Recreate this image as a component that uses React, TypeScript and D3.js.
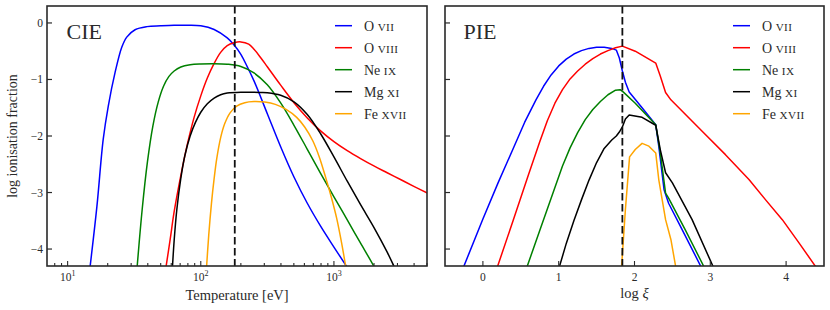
import React from 'react'
import * as d3 from 'd3'

// CIE: temperature [eV] vs log ionisation fraction
const cieOviiT = [14.6, 16.6, 18.5, 20.2, 22.7, 25.5, 27.8, 32.1, 39.4, 50, 63, 80, 100, 126, 158, 178, 200, 224, 251, 316, 398, 501, 631, 794, 1000, 1259, 1318]
const cieOviiF = [-4.4, -3.24, -2.06, -1.47, -0.88, -0.43, -0.25, -0.12, -0.065, -0.05, -0.04, -0.04, -0.05, -0.115, -0.265, -0.39, -0.555, -0.78, -1.025, -1.605, -2.19, -2.725, -3.19, -3.595, -3.965, -4.325, -4.4]

const cieOviiiT = [54.3, 58.9, 63.1, 70.8, 79.4, 89.1, 100, 112, 126, 141, 158, 178, 200, 229, 251, 282, 316, 398, 501, 631, 794, 1000, 1259, 1585, 1995, 2512, 3162, 3981, 5129]
const cieOviiiF = [-4.38, -3.83, -3.34, -2.7, -2.14, -1.67, -1.29, -0.975, -0.715, -0.52, -0.4, -0.35, -0.335, -0.375, -0.465, -0.615, -0.775, -1.1, -1.41, -1.68, -1.91, -2.1, -2.26, -2.4, -2.53, -2.65, -2.77, -2.89, -3.02]

const cieNeixT = [33.1, 36.3, 39.8, 43.7, 47.9, 52.5, 57.5, 63.1, 70.8, 83.2, 100, 126, 158, 200, 251, 316, 398, 501, 631, 794, 1000, 1259, 1585, 1995, 2089]
const cieNeixF = [-4.38, -3.3, -2.45, -1.82, -1.4, -1.12, -0.95, -0.85, -0.78, -0.74, -0.725, -0.72, -0.73, -0.77, -0.885, -1.095, -1.415, -1.81, -2.235, -2.66, -3.075, -3.485, -3.895, -4.305, -4.4]

const cieMgxiT = [61, 63.1, 66.1, 70.8, 75.9, 83.2, 91.2, 100, 112, 126, 141, 158, 200, 282, 316, 398, 501, 631, 794, 1000, 1259, 1585, 1995, 2512, 2818, 2951]
const cieMgxiF = [-4.4, -3.85, -3.3, -2.75, -2.35, -2.0, -1.76, -1.58, -1.43, -1.33, -1.27, -1.24, -1.225, -1.23, -1.235, -1.28, -1.395, -1.62, -1.96, -2.37, -2.8, -3.215, -3.615, -4.055, -4.3, -4.4]

const cieFexviiT = [109.6, 114.8, 120.2, 125.9, 131.8, 141.3, 151.4, 166, 186, 214, 251, 302, 363, 437, 525, 603, 692, 776, 871, 955, 1047, 1148, 1230, 1288]
const cieFexviiF = [-4.45, -3.75, -3.2, -2.76, -2.4, -2.02, -1.78, -1.59, -1.47, -1.41, -1.39, -1.4, -1.44, -1.53, -1.67, -1.84, -2.08, -2.37, -2.75, -3.08, -3.45, -3.92, -4.32, -4.55]

// PIE: log xi vs log ionisation fraction
const pieOviiX = [-0.28, 0.0, 0.2, 0.4, 0.55, 0.7, 0.8, 0.9, 1.0, 1.1, 1.2, 1.3, 1.4, 1.5, 1.6, 1.7, 1.76, 1.8, 1.84, 1.88, 1.93, 2.1, 2.28, 2.32, 2.39, 2.45, 2.63, 2.91]
const pieOviiF = [-4.4, -3.47, -2.83, -2.22, -1.76, -1.36, -1.12, -0.92, -0.76, -0.64, -0.55, -0.49, -0.45, -0.43, -0.43, -0.45, -0.48, -0.62, -0.85, -1.05, -1.22, -1.5, -1.8, -2.18, -2.95, -3.19, -3.66, -4.4]

const pieOviiiX = [0.17, 0.4, 0.6, 0.75, 0.85, 0.95, 1.05, 1.15, 1.25, 1.35, 1.45, 1.55, 1.65, 1.75, 1.84, 2.01, 2.28, 2.34, 2.41, 2.48, 2.85, 3.2, 3.51, 3.73, 3.95, 4.17, 4.41]
const pieOviiiF = [-4.4, -3.49, -2.69, -2.1, -1.73, -1.42, -1.18, -0.99, -0.85, -0.73, -0.63, -0.55, -0.49, -0.44, -0.41, -0.5, -0.71, -0.94, -1.23, -1.36, -1.86, -2.33, -2.77, -3.13, -3.48, -3.89, -4.35]

const pieNeixX = [0.56, 0.75, 0.9, 1.05, 1.15, 1.25, 1.35, 1.45, 1.55, 1.65, 1.75, 1.81, 1.85, 2.01, 2.28, 2.34, 2.41, 2.45, 2.67, 2.93]
const pieNeixF = [-4.4, -3.67, -3.1, -2.53, -2.21, -1.94, -1.71, -1.53, -1.39, -1.27, -1.19, -1.18, -1.22, -1.42, -1.8, -2.3, -3.01, -3.1, -3.66, -4.35]

const pieMgxiX = [0.99, 1.1, 1.2, 1.3, 1.4, 1.5, 1.6, 1.7, 1.76, 1.8, 1.84, 1.88, 1.93, 2.1, 2.28, 2.34, 2.41, 2.5, 2.76, 3.05]
const pieMgxiF = [-4.4, -3.9, -3.5, -3.13, -2.78, -2.47, -2.22, -2.07, -2.0, -1.93, -1.84, -1.7, -1.63, -1.67, -1.81, -2.24, -2.65, -2.83, -3.48, -4.35]

const pieFexviiX = [1.825, 1.88, 1.935, 2.01, 2.1, 2.19, 2.28, 2.32, 2.41, 2.48, 2.555]
const pieFexviiF = [-4.4, -3.3, -2.37, -2.24, -2.13, -2.18, -2.3, -2.77, -3.48, -3.83, -4.4]

const ionLabels = [['O', 'VII'], ['O', 'VIII'], ['Ne', 'IX'], ['Mg', 'XI'], ['Fe', 'XVII']]
const ionColors = ['blue', 'red', 'green', 'black', 'orange']

const cieDashT = 180
const pieDashX = 1.84
const yTicks = [0, -1, -2, -3, -4]
const pieTicks = [0, 1, 2, 3, 4]

const cieX = [cieOviiT, cieOviiiT, cieNeixT, cieMgxiT, cieFexviiT]
const cieY = [cieOviiF, cieOviiiF, cieNeixF, cieMgxiF, cieFexviiF]
const pieX = [pieOviiX, pieOviiiX, pieNeixX, pieMgxiX, pieFexviiX]
const pieY = [pieOviiF, pieOviiiF, pieNeixF, pieMgxiF, pieFexviiF]

const W = 830
const H = 310
const top = 6
const bottom = 266
const L = { x0: 47, x1: 427 }
const R = { x0: 445, x1: 824 }
const font = "'Liberation Serif', 'DejaVu Serif', serif"
const ink = '#2a2a2a'
const fmt = (v: number) => (v < 0 ? '\u2212' + Math.abs(v) : String(v))

const y = d3.scaleLinear().domain([-4.3, 0.3]).range([bottom, top])
const xC = d3.scaleLog().domain([7, 5000]).range([L.x0, L.x1])
const xP = d3.scaleLinear().domain([-0.5, 4.5]).range([R.x0, R.x1])

const Legend = ({ x0 }: { x0: number }) => (
  <g>
    {ionLabels.map((lab, i) => (
      <g key={i} transform={`translate(${x0},${25.7 + i * 22})`}>
        <line x1={0} x2={17} y1={0} y2={0} stroke={ionColors[i]} strokeWidth={1.5} />
        <text x={29} y={4.8} fontSize={14} fill={ink}>
          <tspan>{lab[0] + ' '}</tspan>
          <tspan fontSize={11.2} letterSpacing={0.4}>{lab[1]}</tspan>
        </text>
      </g>
    ))}
  </g>
)

const YTicks = ({ x0, labels }: { x0: number; labels: boolean }) => (
  <g>
    {yTicks.map(t => (
      <g key={t}>
        <line x1={x0} x2={x0 + 5} y1={y(t)} y2={y(t)} stroke={ink} strokeWidth={1.2} />
        {labels && (
          <text x={x0 - 4} y={y(t) + 4} fontSize={11.5} textAnchor="end" fill={ink}>{fmt(t)}</text>
        )}
      </g>
    ))}
  </g>
)

export default function App() {
  const lineC = d3.line<[number, number]>().x(d => xC(d[0])).y(d => y(d[1])).curve(d3.curveCatmullRom.alpha(0.5))
  const lineP = d3.line<[number, number]>().x(d => xP(d[0])).y(d => y(d[1]))

  const logTicks = xC.ticks().filter(t => t >= 8)

  return (
    <div style={{ position: 'absolute', left: 0, top: 0 }}>
      <svg width={W} height={H} fontFamily={font} style={{ display: 'block', background: '#fff' }}>
        <defs>
          <clipPath id="clipL"><rect x={L.x0} y={top} width={L.x1 - L.x0} height={bottom - top} /></clipPath>
          <clipPath id="clipR"><rect x={R.x0} y={top} width={R.x1 - R.x0} height={bottom - top} /></clipPath>
        </defs>

        {/* CIE panel */}
        <g clipPath="url(#clipL)">
          {cieX.map((xs, i) => (
            <path key={i} d={lineC(xs.map((v, j) => [v, cieY[i][j]]) as [number, number][]) || ''}
              fill="none" stroke={ionColors[i]} strokeWidth={1.5} />
          ))}
          <line x1={xC(cieDashT)} x2={xC(cieDashT)} y1={top} y2={bottom} stroke="#111" strokeWidth={1.8} strokeDasharray="7.5,3.5" />
        </g>
        {logTicks.map(t => {
          const major = Math.abs(Math.log10(t) - Math.round(Math.log10(t))) < 1e-6
          return (
            <g key={t}>
              <line x1={xC(t)} x2={xC(t)} y1={bottom} y2={bottom - (major ? 5 : 3)} stroke={ink} strokeWidth={1.1} />
              {major && (
                <text x={xC(t)} y={281} fontSize={11.5} textAnchor="middle" fill={ink}>
                  <tspan>10</tspan>
                  <tspan dy={-5} fontSize={8}>{Math.round(Math.log10(t))}</tspan>
                </text>
              )}
            </g>
          )
        })}
        <YTicks x0={L.x0} labels={true} />
        <rect x={L.x0} y={top} width={L.x1 - L.x0} height={bottom - top} fill="none" stroke={ink} strokeWidth={1.6} />
        <text x={66.5} y={38.5} fontSize={22} fill={ink}>CIE</text>
        <Legend x0={335} />
        <text x={(L.x0 + L.x1) / 2} y={300} fontSize={14.5} textAnchor="middle" fill={ink}>Temperature [eV]</text>
        <text transform={`translate(17,${(top + bottom) / 2}) rotate(-90)`} fontSize={14} textAnchor="middle" fill={ink}>
          log ionisation fraction
        </text>

        {/* PIE panel */}
        <g clipPath="url(#clipR)">
          {pieX.map((xs, i) => (
            <path key={i} d={lineP(xs.map((v, j) => [v, pieY[i][j]]) as [number, number][]) || ''}
              fill="none" stroke={ionColors[i]} strokeWidth={1.5} strokeLinejoin="round" />
          ))}
          <line x1={xP(pieDashX)} x2={xP(pieDashX)} y1={top} y2={bottom} stroke="#111" strokeWidth={1.8} strokeDasharray="7.5,3.5" />
        </g>
        {pieTicks.map(t => (
          <g key={t}>
            <line x1={xP(t)} x2={xP(t)} y1={bottom} y2={bottom - 5} stroke={ink} strokeWidth={1.1} />
            <text x={xP(t)} y={281} fontSize={11.5} textAnchor="middle" fill={ink}>{fmt(t)}</text>
          </g>
        ))}
        <YTicks x0={R.x0} labels={false} />
        <rect x={R.x0} y={top} width={R.x1 - R.x0} height={bottom - top} fill="none" stroke={ink} strokeWidth={1.6} />
        <text x={463.5} y={38.5} fontSize={22} fill={ink}>PIE</text>
        <Legend x0={733} />
        <text x={(R.x0 + R.x1) / 2} y={298} fontSize={14.5} textAnchor="middle" fill={ink}>
          <tspan>log </tspan>
          <tspan fontStyle="italic">ξ</tspan>
        </text>
      </svg>
    </div>
  )
}
